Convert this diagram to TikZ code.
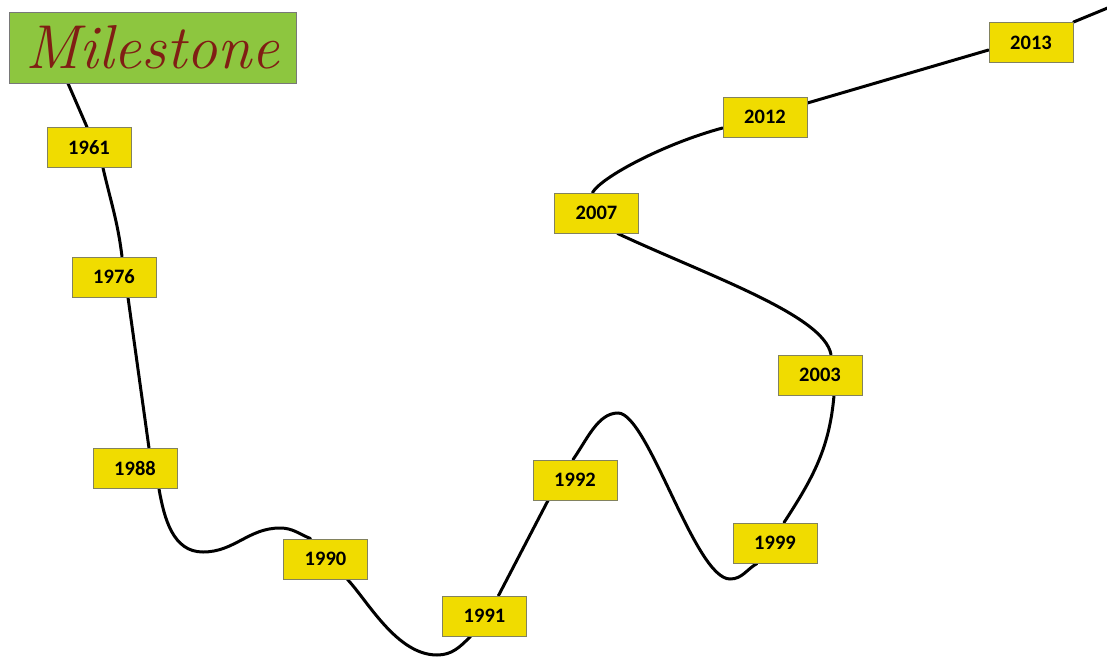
\documentclass[tikz,border=0pt]{standalone}
\usepackage{fontspec}
\newfontfamily\yearfont{Carlito}
\usetikzlibrary{backgrounds}
\definecolor{boxfill}{RGB}{240,220,0}
\definecolor{boxedge}{RGB}{130,130,95}
\definecolor{msgreen}{RGB}{141,198,63}
\definecolor{msedge}{RGB}{120,120,120}
\definecolor{msred}{RGB}{128,30,20}
\begin{document}
\begin{tikzpicture}[x=1pt,y=1pt,
  year/.style={draw=boxedge, fill=boxfill, line width=0.9pt,
    minimum width=84pt, minimum height=40pt, inner sep=0pt,
    font=\yearfont\bfseries\fontsize{20.5}{22}\selectfont},
  titlebox/.style={draw=msedge, fill=msgreen, line width=0.8pt,
    minimum width=287pt, minimum height=71pt, inner sep=0pt,
    text=msred, font=\fontsize{62}{64}\selectfont\itshape},
  trail/.style={line width=3pt, black, line cap=round}]

\useasboundingbox (0,0) rectangle (1107,-658);

% title and year boxes
\node[titlebox] (ms) at (152.5,-47.5) {Milestone};
\node[year] (y1961) at (89,-147.5) {1961};
\node[year] (y1976) at (114,-277) {1976};
\node[year] (y1988) at (135,-468.5) {1988};
\node[year] (y1990) at (325.5,-559) {1990};
\node[year] (y1991) at (484.5,-616) {1991};
\node[year] (y1992) at (575,-480) {1992};
\node[year] (y1999) at (775,-543) {1999};
\node[year] (y2003) at (820,-375) {2003};
\node[year] (y2007) at (596.5,-213) {2007};
\node[year] (y2012) at (765,-117) {2012};
\node[year] (y2013) at (1031,-42.5) {2013};

% turning points of the wavy line
\coordinate (dipA) at (203,-552);
\coordinate (humpA) at (280,-528);
\coordinate (dipB) at (437,-655);
\coordinate (peak) at (618,-413);
\coordinate (dipC) at (730,-579);
\coordinate (tail) at (1110,-7);

\begin{scope}[on background layer]
\draw[trail] ([xshift=-84.5pt]ms.south) -- ([xshift=-2pt]y1961.north);
\draw[trail] ([xshift=14pt]y1961.south) to[out=-77,in=97] ([xshift=8pt]y1976.north);
\draw[trail] ([xshift=14pt]y1976.south) -- ([xshift=14pt]y1988.north);
\draw[trail] ([xshift=24pt]y1988.south) to[out=-80,in=180] (dipA)
  to[out=0,in=180] (humpA) to[out=0,in=158] ([xshift=-15pt]y1990.north);
\draw[trail] ([xshift=22pt]y1990.south)
  to[out=-47,in=180,out distance=30pt,in distance=40pt] (dipB)
  to[out=0,in=-135] ([xshift=-14pt]y1991.south);
\draw[trail] ([xshift=14pt]y1991.north) -- ([xshift=-27pt]y1992.south);
\draw[trail] ([xshift=-2pt]y1992.north)
  to[out=55,in=180,out distance=25pt,in distance=20pt] (peak)
  to[out=0,in=180,out distance=30pt,in distance=35pt] (dipC)
  to[out=0,in=-150] ([xshift=-18pt]y1999.south);
\draw[trail] ([xshift=9pt]y1999.north) to[out=57,in=-95] ([xshift=14pt]y2003.south);
\draw[trail] ([xshift=11pt]y2003.north)
  to[out=100,in=-25,out distance=40pt,in distance=100pt] ([xshift=21pt]y2007.south);
\draw[trail] ([xshift=-4pt]y2007.north)
  to[out=60,in=-165,out distance=18pt,in distance=60pt] ([yshift=-11pt]y2012.west);
\draw[trail] ([yshift=14pt]y2012.east) -- ([yshift=-7.5pt]y2013.west);
\draw[trail] (y2013.north east) -- (tail);
\end{scope}
\end{tikzpicture}
\end{document}
